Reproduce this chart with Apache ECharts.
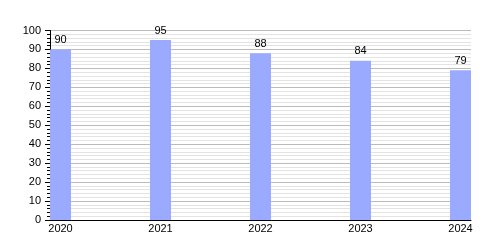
<!DOCTYPE html>
<html>
<head>
<meta charset="utf-8">
<script src="https://cdn.jsdelivr.net/npm/echarts@6/dist/echarts.min.js"></script>
<style>
html,body{margin:0;padding:0;background:#fff;}
#chart{width:500px;height:250px;}
</style>
</head>
<body>
<div id="chart"></div>
<script>
const years = [2020, 2021, 2022, 2023, 2024];
const values = [90, 95, 88, 84, 79];
const yTicks = [0, 10, 20, 30, 40, 50, 60, 70, 80, 90, 100];

const chart = echarts.init(document.getElementById('chart'), null, {renderer: 'canvas'});
const font = 'Liberation Sans, Arial, sans-serif';
chart.setOption({
  animation: false,
  backgroundColor: '#ffffff',
  grid: {left: 50, right: 29, top: 30.5, bottom: 30, containLabel: false},
  xAxis: {
    type: 'value',
    min: 2019.895,
    max: 2024.105,
    axisLine: {show: true, onZero: false, lineStyle: {color: '#000', width: 1}},
    axisTick: {show: false},
    splitLine: {show: false},
    axisLabel: {
      customValues: years,
      color: '#000',
      fontFamily: font,
      fontSize: 11,
      margin: 3,
      formatter: v => String(Math.round(v))
    }
  },
  yAxis: {
    type: 'value',
    min: 0,
    max: 100,
    interval: 10,
    axisLine: {show: true, lineStyle: {color: '#000', width: 1}},
    axisTick: {show: true, length: 5, lineStyle: {color: '#000'}},
    minorTick: {show: true, splitNumber: 5, length: 3, lineStyle: {color: '#000'}},
    splitLine: {show: true, lineStyle: {color: '#bbbbbb', width: 1}},
    minorSplitLine: {show: true, lineStyle: {color: '#e3e3e3', width: 1}},
    axisLabel: {color: '#000', fontFamily: font, fontSize: 11, margin: 9}
  },
  series: [{
    type: 'bar',
    data: years.map((y, i) => [y, values[i]]),
    barWidth: 21,
    itemStyle: {color: '#99aaff'},
    label: {
      show: true,
      position: 'top',
      distance: 4,
      color: '#000',
      fontFamily: font,
      fontSize: 11
    }
  }]
});
</script>
</body>
</html>
